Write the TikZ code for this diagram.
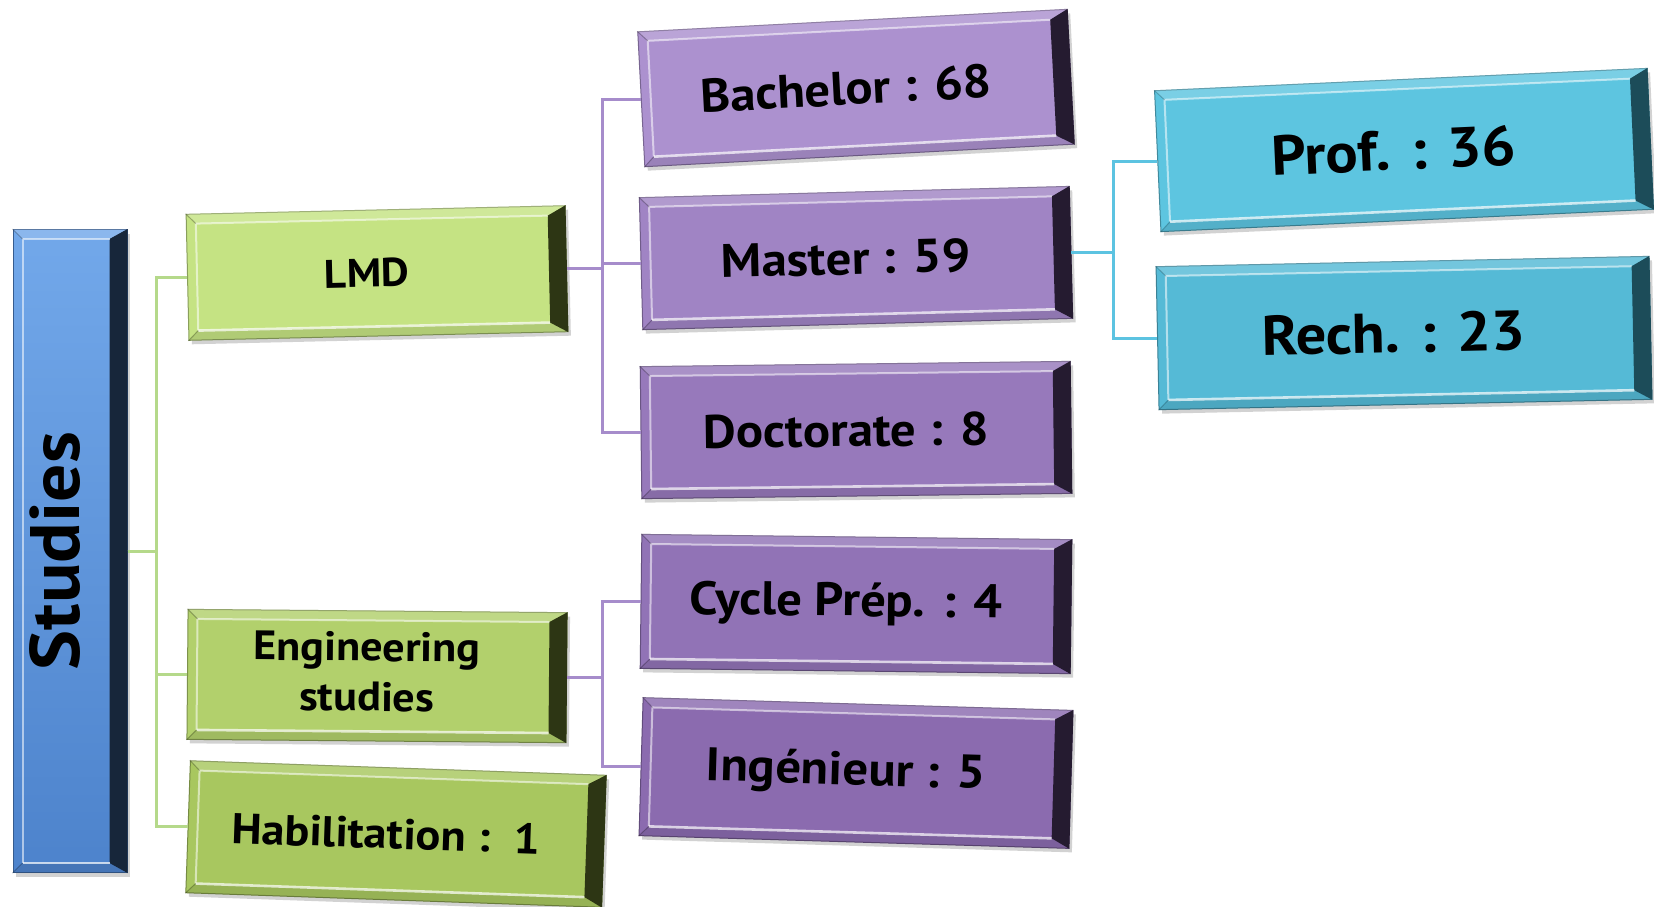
\documentclass[tikz,border=0pt]{standalone}
\usepackage{fontspec}
\setmainfont[FakeStretch=1.08]{PT Sans}
\usepackage{graphicx}
\usepackage{tikz}
\usetikzlibrary{calc,shadows}

\definecolor{studiestop}{HTML}{72A8EA}
\definecolor{studiesbot}{HTML}{4D83CC}
\definecolor{bluedark}{HTML}{17263A}
\definecolor{lmdgreen}{HTML}{C5E383}
\definecolor{enggreen}{HTML}{B2D06C}
\definecolor{habgreen}{HTML}{A8C75F}
\definecolor{greendark}{HTML}{2D3614}
\definecolor{bachpurple}{HTML}{AC91CF}
\definecolor{masterpurple}{HTML}{A084C4}
\definecolor{doctpurple}{HTML}{9779BB}
\definecolor{cyclepurple}{HTML}{9173B6}
\definecolor{ingpurple}{HTML}{8B6BAF}
\definecolor{purpledark}{HTML}{251B30}
\definecolor{profcyan}{HTML}{5DC5E0}
\definecolor{rechcyan}{HTML}{55BAD6}
\definecolor{cyandark}{HTML}{1C4C59}
\definecolor{greenline}{HTML}{B5D98A}
\definecolor{purpleline}{HTML}{A68CCB}
\definecolor{cyanline}{HTML}{5CC3E1}

% bevelled frame of a box: #1 node, #2 colour of its shaded side
\newcommand{\bevel}[2]{%
  \coordinate (#1-a) at ($($(#1.north west)!5pt!(#1.north east)$)!5pt!($(#1.south west)!5pt!(#1.south east)$)$);
  \coordinate (#1-b) at ($($(#1.north east)!9pt!(#1.north west)$)!5pt!($(#1.south east)!9pt!(#1.south west)$)$);
  \coordinate (#1-c) at ($($(#1.south east)!9pt!(#1.south west)$)!5pt!($(#1.north east)!9pt!(#1.north west)$)$);
  \coordinate (#1-d) at ($($(#1.south west)!5pt!(#1.south east)$)!5pt!($(#1.north west)!5pt!(#1.north east)$)$);
  \fill[white,opacity=.18] (#1.north west) -- (#1.north east) -- (#1-b) -- (#1-a) -- cycle;
  \fill[black,opacity=.10] (#1.south west) -- (#1.south east) -- (#1-c) -- (#1-d) -- cycle;
  \fill[#2] (#1.north east) -- (#1.south east) -- (#1-c) -- (#1-b) -- cycle;
  \draw[white,opacity=.55,line width=1pt] (#1-d) -- (#1-a) -- (#1-b);
  \draw[white,opacity=.7,line width=1.3pt] (#1-d) -- (#1-c);
  \draw[#2,opacity=.35,line width=.5pt] (#1.north west) -- (#1-a) (#1.south west) -- (#1-d);
}

\tikzset{
  tile/.style={rectangle, fill=#1, draw=#1!70!black, line width=.5pt, inner sep=0pt,
    execute at end node={\hspace*{10pt}},
    drop shadow={shadow xshift=1.5pt, shadow yshift=-2pt, opacity=.35}},
  greentile/.style={tile=#1, minimum width=189.5pt, minimum height=64pt,
    font=\bfseries\fontsize{20}{25}\selectfont},
  purpletile/.style={tile=#1, minimum width=215pt, minimum height=67pt,
    font=\bfseries\fontsize{23.5}{26}\selectfont},
  cyantile/.style={tile=#1, minimum width=246.5pt, minimum height=71pt,
    font=\bfseries\fontsize{28}{31}\selectfont},
  branch/.style={line width=1.5pt}
}

\begin{document}
\begin{tikzpicture}[x=0.5pt,y=-0.5pt]
\useasboundingbox[fill=white] (0,0) rectangle (1654,906);

% root
\node[tile=studiesbot, top color=studiestop, bottom color=studiesbot,
  minimum width=57pt, minimum height=321.5pt, execute at end node={\hspace*{5pt}},
  font=\bfseries\fontsize{35}{38}\selectfont] (studies) at (70,551) {\rotatebox{90}{Studies}};

% second level
\node[greentile=lmdgreen, rotate=1.3, minimum height=63pt] (lmd) at (377,273) {LMD};
\node[greentile=enggreen, rotate=-0.5, minimum height=65pt,
  font=\bfseries\fontsize{20.5}{25}\selectfont] (eng) at (377,676)
  {\begin{tabular}{@{}c@{}}Engineering\\studies\end{tabular}};
\node[greentile=habgreen, rotate=-2, minimum width=208pt, minimum height=66pt,
  font=\bfseries\fontsize{21.5}{24}\selectfont] (hab) at (396,834) {Habilitation :~~1};

% third level
\node[purpletile=bachpurple, rotate=3, minimum height=67.5pt] (bach) at (856,88) {Bachelor : 68};
\node[purpletile=masterpurple, rotate=1.5, minimum height=66pt] (master) at (856,258) {Master : 59};
\node[purpletile=doctpurple, rotate=0.7, minimum height=66pt] (doct) at (856,430) {Doctorate : 8};
\node[purpletile=cyclepurple, rotate=-0.7] (cycle) at (856,604) {Cycle Prép. : 4};
\node[purpletile=ingpurple, rotate=-1.7, minimum height=69pt] (ing) at (856,773) {Ingénieur : 5};

% fourth level
\node[cyantile=profcyan, rotate=2.6, minimum height=70.5pt] (prof) at (1404,150) {Prof. : 36};
\node[cyantile=rechcyan, rotate=1.2, minimum height=71.5pt] (rech) at (1404,333) {Rech. : 23};

\bevel{studies}{bluedark}
\foreach \n in {lmd,eng,hab} {\bevel{\n}{greendark}}
\foreach \n in {bach,master,doct,cycle,ing} {\bevel{\n}{purpledark}}
\foreach \n in {prof,rech} {\bevel{\n}{cyandark}}

% connectors
\foreach \n in {lmd,eng,hab}
  \draw[branch,greenline] (studies.east) -- ++(29,0) |- (\n.west);
\foreach \n in {bach,master,doct}
  \draw[branch,purpleline] (lmd.east) -- ++(36,0) |- (\n.west);
\foreach \n in {cycle,ing}
  \draw[branch,purpleline] (eng.east) -- ++(36,0) |- (\n.west);
\foreach \n in {prof,rech}
  \draw[branch,cyanline] (master.east) -- ++(42,0) |- (\n.west);
\end{tikzpicture}
\end{document}
